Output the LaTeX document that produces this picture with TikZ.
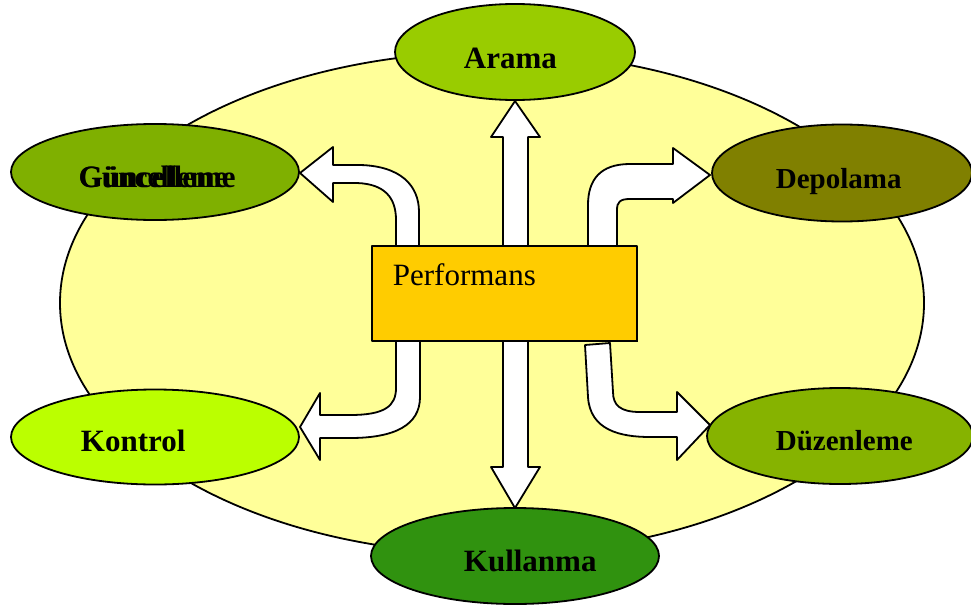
\documentclass[tikz,border=0pt]{standalone}
\usepackage{fontspec}
\setmainfont{Liberation Serif}
\usetikzlibrary{shapes.geometric}
\definecolor{paleyellow}{HTML}{FFFF99}
\definecolor{aramagreen}{HTML}{99CC00}
\definecolor{guncgreen}{HTML}{7FB000}
\definecolor{depolive}{HTML}{808000}
\definecolor{kontlime}{HTML}{BBFF00}
\definecolor{duzgreen}{HTML}{86B300}
\definecolor{kulgreen}{HTML}{30920F}
\definecolor{perfgold}{HTML}{FFCC00}
\begin{document}
\begin{tikzpicture}[x=1pt, y=-1pt, line width=1.8pt, line join=round,
  bubble/.style={ellipse, draw=black, inner sep=0pt},
  lbl/.style={anchor=base west, inner sep=0pt, font=\fontsize{31}{31}\selectfont\bfseries},
  blockarrow/.style={draw=black, fill=white}]
\clip (0,0) rectangle (971,610);

% background oval
\node[bubble, fill=paleyellow, minimum width=864pt, minimum height=502pt] (field) at (492,303) {};

% double arrow between Arama and Kullanma
\draw[blockarrow] (515,101) -- (540,137) -- (528,137) -- (528,467) -- (540,467) -- (515,508)
  -- (491,467) -- (503,467) -- (503,137) -- (491,137) -- cycle;

% bent arrow towards Güncelleme
\draw[blockarrow] (300,173) -- (333,147) -- (333,165) -- (360,165)
  .. controls (400,166) and (419,185) .. (419,212) -- (419,250) -- (396,250) -- (396,220)
  .. controls (396,198) and (385,184) .. (357,183) -- (333,183) -- (333,202) -- cycle;

% bent arrow towards Depolama
\draw[blockarrow] (710,175) -- (673,148) -- (673,164) -- (630,164)
  .. controls (600,164) and (588,180) .. (588,205) -- (588,250) -- (617,250) -- (617,210)
  .. controls (617,202) and (620,199) .. (630,199) -- (673,199) -- (673,203) -- cycle;

% bent arrow towards Kontrol
\draw[blockarrow] (300,427) -- (320,393) -- (320,415) -- (350,415)
  .. controls (385,415) and (396,406) .. (396,388) -- (396,335) -- (420,335) -- (420,397)
  .. controls (420,425) and (395,438) .. (350,438) -- (320,438) -- (320,460) -- cycle;

% bent arrow towards Düzenleme
\draw[blockarrow] (710,425) -- (677,392) -- (677,412) -- (640,412)
  .. controls (620,412) and (613,405) .. (613,392) -- (610,343) -- (585,345) -- (588,397)
  .. controls (590,430) and (620,437) .. (650,437) -- (677,437) -- (677,460) -- cycle;

% central box with a thin drop shadow
\fill[black] (373,247) rectangle (638,342);
\node[draw=black, fill=perfgold, minimum width=265pt, minimum height=95pt, inner sep=0pt,
  anchor=north west] (perf) at (371,245) {};
\node[anchor=base west, inner sep=0pt, font=\fontsize{31}{31}\selectfont] (perftext) at (392,285) {Performans};

% surrounding ellipses
\node[bubble, fill=aramagreen, minimum width=240pt, minimum height=96pt] (arama) at (515,52) {};
\node[bubble, fill=guncgreen, minimum width=288pt, minimum height=96pt] (gunc) at (155,172) {};
\node[bubble, fill=depolive, minimum width=260pt, minimum height=97pt] (depo) at (842,173) {};
\node[bubble, fill=kontlime, minimum width=288pt, minimum height=95pt] (kont) at (155,437) {};
\node[bubble, fill=duzgreen, minimum width=266pt, minimum height=96pt] (duz) at (840,436) {};
\node[bubble, fill=kulgreen, minimum width=288pt, minimum height=96pt] (kul) at (515,556) {};

% labels (the Güncelleme label is printed twice, slightly out of register)
\node[lbl] (aramatext) at (463,68) {Arama};
\node[lbl] (gunctext) at (78,187) {Güncelleme};
\node[lbl, xscale=0.95] (gunctextb) at (78,187) {Güncelleme};
\node[lbl, font=\fontsize{29}{29}\selectfont\bfseries] (depotext) at (775,188) {Depolama};
\node[lbl] (konttext) at (80,451) {Kontrol};
\node[lbl, font=\fontsize{29}{29}\selectfont\bfseries] (duztext) at (775,450) {Düzenleme};
\node[lbl] (kultext) at (463,571) {Kullanma};
\end{tikzpicture}
\end{document}
